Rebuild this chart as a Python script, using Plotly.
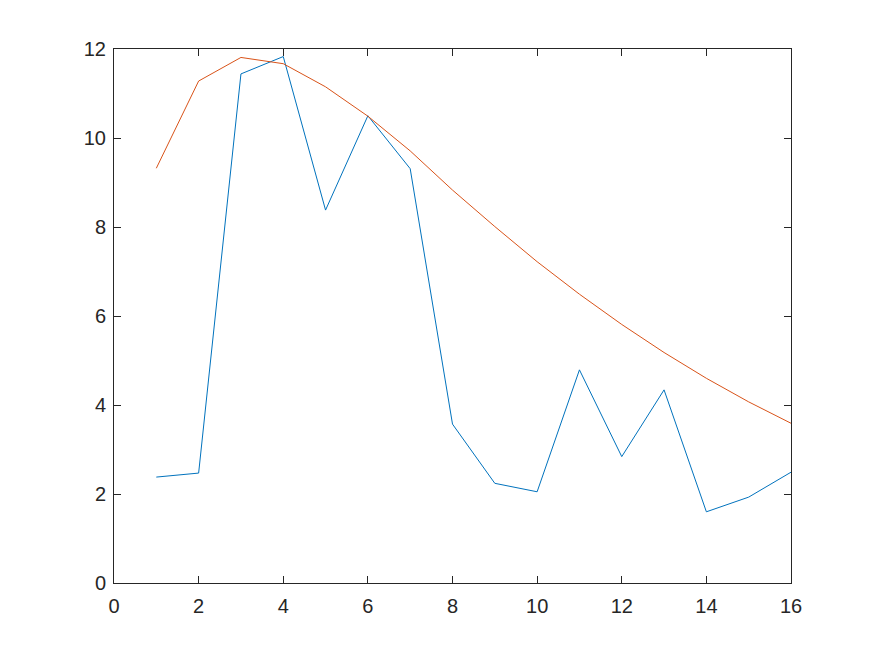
import plotly.graph_objects as go

x_vals = list(range(1, 17))
measured = [2.38, 2.47, 11.44, 11.83, 8.38, 10.50, 9.31, 3.57,
            2.24, 2.05, 4.79, 2.84, 4.34, 1.60, 1.93, 2.49]
fitted = [9.32, 11.28, 11.81, 11.67, 11.15, 10.49, 9.71, 8.83,
          8.01, 7.22, 6.49, 5.81, 5.18, 4.60, 4.07, 3.59]

x_ticks = list(range(0, 17, 2))
y_ticks = list(range(0, 13, 2))

axis_color = "#262626"

fig = go.Figure()
fig.add_trace(go.Scatter(x=x_vals, y=measured, mode="lines",
                         line=dict(color="#0072BD", width=1)))
fig.add_trace(go.Scatter(x=x_vals, y=fitted, mode="lines",
                         line=dict(color="#D95319", width=1)))

common_axis = dict(
    showgrid=False,
    zeroline=False,
    showline=True,
    linecolor=axis_color,
    linewidth=1,
    mirror="ticks",
    ticks="inside",
    ticklen=7,
    tickcolor=axis_color,
    tickfont=dict(family="Liberation Sans, Arial", size=20, color=axis_color),
)

# page body adds an 8px offset, margins account for it
fig.update_layout(
    width=875,
    height=656,
    showlegend=False,
    paper_bgcolor="white",
    plot_bgcolor="white",
    margin=dict(l=106, r=92, t=41, b=81),
    xaxis=dict(range=[0, 16], tickvals=x_ticks, ticklabelstandoff=5, **common_axis),
    yaxis=dict(range=[0, 12], tickvals=y_ticks, ticklabelstandoff=3, **common_axis),
)

fig.write_html("out.html")
